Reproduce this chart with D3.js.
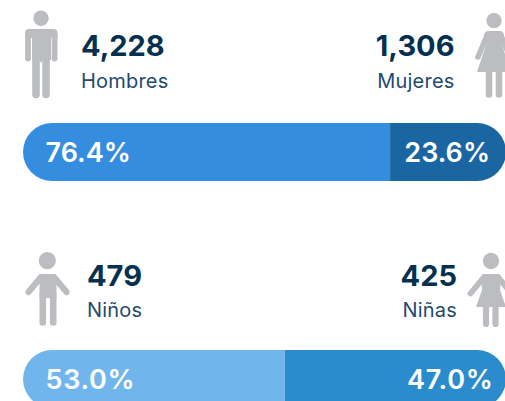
<!DOCTYPE html>
<html>
<head>
	<title></title>
	<style type="text/css">
		html, body { margin: 0; padding: 0; background: #fff; overflow: hidden; }
		svg { display: block; }
		text { font-family: Inter, "Open Sans", sans-serif; }
		.count { font-size: 29px; font-weight: 700; fill: #05304f; }
		.name { font-size: 20px; font-weight: 400; fill: #1f4a6e; letter-spacing: 0.2px; }
		.pct { font-size: 27px; font-weight: 600; fill: #fff; }
	</style>
</head>
<body>
	<svg class="viz" width="505" height="401"></svg>

	<script src="https://d3js.org/d3.v7.min.js" charset="utf-8"></script>
	<script type="text/javascript">

		// Values
		var leftNames = ['Hombres', 'Niños'];
		var rightNames = ['Mujeres', 'Niñas'];
		var leftCounts = [4228, 479];
		var rightCounts = [1306, 425];
		var leftPct = ['76.4%', '53.0%'];
		var rightPct = ['23.6%', '47.0%'];
		// where the colour changes in each bar, measured (the picture does not split exactly at the label)
		var barSplit = [76.0, 54.2];
		var leftColors = ['#358ddf', '#70b6ec'];
		var rightColors = ['#1a66a3', '#2a8ccd'];

		var canvas = d3.select('.viz');
		var x = d3.scaleLinear().domain([0, 100]).range([23, 506]);
		var barTop = [123, 350];
		var barH = 58;
		var numFormat = d3.format(',');
		var grey = '#bcbdc0';

		// text positions for each row
		var leftTextX = [81, 87];
		var rightTextX = [454.5, 457];
		var countY = [56, 286];
		var nameY = [87.5, 316.5];
		var pctY = [162, 389];
		var pctSpacing = [0, 0.7];

		leftNames.forEach(function(name, i) {
			var clipId = 'bar-clip-' + i;
			canvas.append('clipPath').attr('id', clipId).append('rect')
				.attr('x', x(0)).attr('y', barTop[i])
				.attr('width', x(100) - x(0)).attr('height', barH)
				.attr('rx', 29).attr('ry', 29);

			var g = canvas.append('g').attr('clip-path', 'url(#' + clipId + ')');
			g.append('rect')
				.attr('x', x(0)).attr('y', barTop[i])
				.attr('width', x(barSplit[i]) - x(0)).attr('height', barH)
				.attr('fill', leftColors[i]);
			g.append('rect')
				.attr('x', x(barSplit[i])).attr('y', barTop[i])
				.attr('width', x(100) - x(barSplit[i])).attr('height', barH)
				.attr('fill', rightColors[i]);

			canvas.append('text').attr('class', 'pct')
				.attr('x', 45.5).attr('y', pctY[i])
				.style('letter-spacing', pctSpacing[i] + 'px').text(leftPct[i]);
			canvas.append('text').attr('class', 'pct').attr('text-anchor', 'end')
				.attr('x', 490 + i * 3.5).attr('y', pctY[i])
				.style('letter-spacing', pctSpacing[i] + 'px').text(rightPct[i]);

			canvas.append('text').attr('class', 'count')
				.attr('x', leftTextX[i]).attr('y', countY[i]).text(numFormat(leftCounts[i]));
			canvas.append('text').attr('class', 'name')
				.attr('x', leftTextX[i]).attr('y', nameY[i]).text(name);
			canvas.append('text').attr('class', 'count').attr('text-anchor', 'end')
				.attr('x', rightTextX[i]).attr('y', countY[i]).text(numFormat(rightCounts[i]));
			canvas.append('text').attr('class', 'name').attr('text-anchor', 'end')
				.attr('x', rightTextX[i]).attr('y', nameY[i]).text(rightNames[i]);
		});

		// Person icons
		var icons = canvas.append('g').attr('fill', grey).attr('stroke', 'none');

		function limb(x1, y1, x2, y2, w) {
			icons.append('line')
				.attr('x1', x1).attr('y1', y1).attr('x2', x2).attr('y2', y2)
				.attr('stroke', grey).attr('stroke-width', w).attr('stroke-linecap', 'round');
		}
		function head(cx, cy, r) {
			icons.append('circle').attr('cx', cx).attr('cy', cy).attr('r', r);
		}

		// man
		head(41, 18.3, 7.7);
		icons.append('path').attr('d', 'M29 29H53.5Q57.5 29 57.5 33V38H51V60H42V62H40V60H32V38H25V33Q25 29 29 29Z');
		limb(28, 34, 28, 58.5, 5.8);
		limb(54.6, 34, 54.6, 58.5, 5.8);
		limb(36, 58, 36, 94.5, 7.6);
		limb(46, 58, 46, 94.5, 7.6);

		// woman
		head(494, 20.7, 7.6);
		icons.append('path').attr('d', 'M488 31H500Q503 31 504 35L501 42L511 72H477L487 42L484 35Q485 31 488 31Z');
		limb(487.5, 34.5, 478, 57, 5.6);
		limb(500.5, 34.5, 510, 57, 5.6);
		limb(489, 70, 489, 94.5, 6.6);
		limb(499, 70, 499, 94.5, 6.6);

		// boy
		head(47.3, 260.7, 8.6);
		icons.append('path').attr('d', 'M42 274H53Q56 274 56.5 277V298H39.5V277Q39.5 274 42 274Z');
		limb(41, 277, 28.5, 292, 6.2);
		limb(54, 277, 66.5, 292, 6.2);
		limb(42.8, 295, 42.8, 322.4, 6.6);
		limb(53.2, 295, 53.2, 322.4, 6.6);

		// girl
		head(491, 261, 8.2);
		icons.append('path').attr('d', 'M484 274H498Q500 274 501 277L500 290L506 307H476L482 290L481 277Q482 274 484 274Z');
		limb(484, 277, 470.5, 293.5, 5.8);
		limb(498, 277, 511.5, 293.5, 5.8);
		limb(486, 303, 486, 324, 6.2);
		limb(495.5, 303, 495.5, 324, 6.2);

	</script>
</body>
</html>
